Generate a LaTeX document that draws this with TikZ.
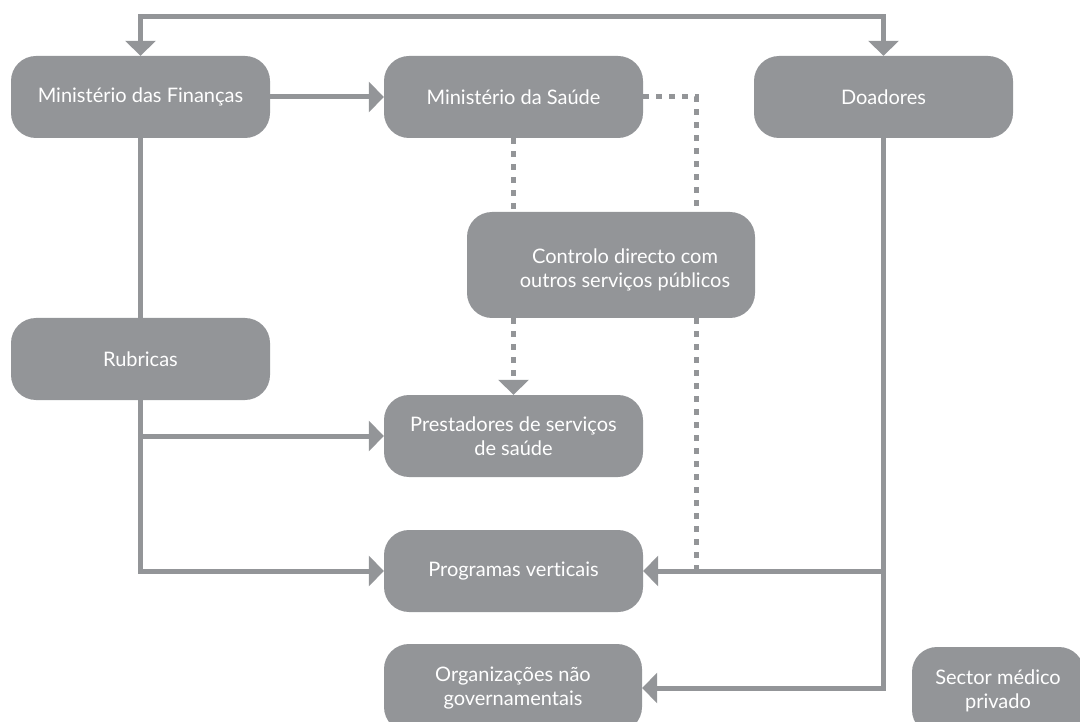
\documentclass[tikz,border=0pt]{standalone}
\usepackage{fontspec}
\setmainfont{Lato}[Ligatures={NoCommon}]
\usetikzlibrary{arrows.meta}
\definecolor{boxgray}{RGB}{147,149,152}
\begin{document}
\begin{tikzpicture}[x=1pt,y=-1pt,
 box/.style={fill=boxgray, rounded corners=25pt, text=white, align=center,
   font=\fontsize{20}{24}\selectfont, minimum width=259pt, minimum height=82pt, inner sep=0pt},
 txt/.style={text=white, align=center, font=\fontsize{20}{24}\selectfont, inner sep=0pt},
 conn/.style={draw=boxgray, line width=5pt},
 tip/.tip={Triangle[width=30pt,length=15pt]},
 arr/.style={conn, -tip},
 dotln/.style={conn, dash pattern=on 6pt off 7pt},
 dotarr/.style={dotln, -tip},
]
\useasboundingbox (0,0) rectangle (1080,722);
% boxes
\node[box] (fin) at (140.5,97) {Ministério das Finanças};
\node[box] (sau) at (513.5,97) {Ministério da Saúde};
\node[box] (doa) at (883.5,97) {Doadores};
\node[box, minimum width=288pt, minimum height=106pt] (ctrl) at (611,265) {};
\node[txt] (ctrltxt) at (625,270) {Controlo directo com\\outros serviços públicos};
\node[box] (rub) at (140.5,359) {Rubricas};
\node[box] (prest) at (513.5,436) {Prestadores de serviços\\de saúde};
\node[box] (prog) at (513.5,571) {Programas verticais};
\node[box, minimum width=258pt, minimum height=88pt] (org) at (513,688) {Organizações não\\governamentais};
\node[box, minimum width=172pt, minimum height=88pt] (sec) at (998,691) {Sector médico\\privado};
% connectors
\draw[conn, tip-tip] (fin.north) -- ++(0,-39) -| (doa.north);
\draw[arr] (fin.east) -- (sau.west);
\draw[conn] (fin.south) -- (rub.north);
\draw[arr] (rub.south) |- (prog.west);
\draw[arr] (rub.south |- prest.west) -- (prest.west);
\draw[dotln] (sau.south) -- (sau.south |- ctrl.north);
\draw[dotarr] (sau.south |- ctrl.south) -- (prest.north);
\coordinate (dx) at (696,97);
\draw[dotln] (sau.east) -- (dx) -- (dx |- ctrl.north);
\draw[dotln] (dx |- ctrl.south) -- (dx |- prog.east);
\draw[arr] (doa.south) |- (org.east);
\draw[arr] (doa.south |- prog.east) -- (prog.east);
\end{tikzpicture}
\end{document}
